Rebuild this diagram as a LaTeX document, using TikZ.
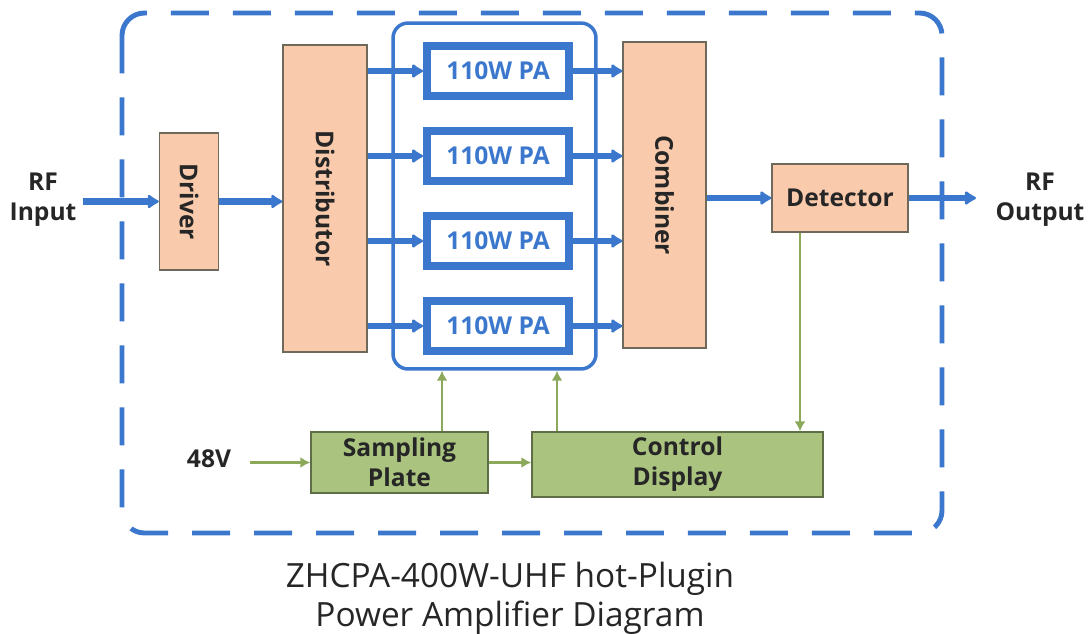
\documentclass[tikz,border=0pt]{standalone}
\usepackage{graphicx}
\usepackage{fontspec}
\setmainfont{Open Sans}
\usetikzlibrary{arrows.meta, positioning, calc}
\definecolor{pablue}{RGB}{59,120,205}
\definecolor{peach}{RGB}{249,203,172}
\definecolor{peachline}{RGB}{110,105,90}
\definecolor{ctrlgreen}{RGB}{170,196,128}
\definecolor{greenline}{RGB}{95,110,70}
\definecolor{feedgreen}{RGB}{140,168,90}

\begin{document}
\begin{tikzpicture}[
    x=0.02cm, y=-0.02cm,
    blk/.style={draw=peachline, line width=0.8pt, fill=peach, inner sep=0pt, font=\fontsize{14}{17}\selectfont\bfseries, text=black!85},
    ctl/.style={draw=greenline, line width=0.8pt, fill=ctrlgreen, inner sep=0pt, align=center, font=\fontsize{14}{17}\selectfont\bfseries, text=black!85},
    pabox/.style={draw=pablue, line width=4.5pt, minimum width=2.84cm, minimum height=1.0cm, inner sep=0pt, font=\fontsize{14}{17}\selectfont\bfseries, text=pablue},
    rfarrow/.style={draw=pablue, line width=3.6pt, -{Latex[length=0.26cm, width=0.34cm, round]}},
    feed/.style={draw=feedgreen, line width=1.4pt, -{Latex[length=0.2cm, width=0.22cm]}},
    lbl/.style={align=center, font=\fontsize{14}{17}\selectfont\bfseries, text=black!85},
]
\useasboundingbox (0,0) rectangle (1088,633);

% Module frame
\draw[pablue, line width=2.8pt, dash pattern=on 0.76cm off 0.48cm, rounded corners=0.45cm] (122,13) rectangle (942,533);

% RF chain
\node[lbl] (rfin) at (43,200) {RF\\Input};
\node[blk, minimum width=1.18cm, minimum height=2.74cm] (driver) at (189,201.5) {\rotatebox{-90}{Driver}};
\node[blk, minimum width=1.68cm, minimum height=6.14cm] (dist) at (325,198.5) {\rotatebox{-90}{Distributor}};
\node[draw=pablue, line width=2pt, rounded corners=0.3cm, minimum width=4.06cm, minimum height=6.92cm] (paframe) at (494.5,196) {};
\foreach \i/\y in {1/71,2/156,3/241,4/326}
    \node[pabox] (pa\i) at (498,\y) {110W PA};
\node[blk, minimum width=1.66cm, minimum height=6.12cm] (comb) at (664.5,195) {\rotatebox{-90}{Combiner}};
\node[blk, minimum width=2.72cm, minimum height=1.36cm] (det) at (840,198) {Detector};
\node[lbl] (rfout) at (1040,200) {RF\\Output};
\coordinate (rfend) at (976,198);

% Supply and control
\node[lbl] (v48) at (209,459) {48V};
\node[ctl, minimum width=3.54cm, minimum height=1.22cm] (samp) at (399.5,462.5) {Sampling\\Plate};
\node[ctl, minimum width=5.82cm, minimum height=1.3cm] (ctrl) at (677.5,464.5) {Control\\Display};
\coordinate (tapA) at (442,0);
\coordinate (tapB) at (557,0);
\coordinate (tapC) at (800,0);

% RF arrows
\draw[rfarrow] (rfin.east |- driver.west) -- (driver.west);
\draw[rfarrow] (driver.east) -- (dist.west |- driver.east);
\foreach \i in {1,...,4} {
    \draw[rfarrow] (dist.east |- pa\i.west) -- (pa\i.west);
    \draw[rfarrow] (pa\i.east) -- (comb.west |- pa\i.east);
}
\draw[rfarrow] (comb.east |- det.west) -- (det.west);
\draw[rfarrow] (det.east) -- (rfend);

% Control arrows
\draw[feed, shorten <=0.25cm] (v48.east |- samp.west) -- (samp.west);
\draw[feed] (samp.east) -- (ctrl.west |- samp.east);
\draw[feed] (samp.north -| tapA) -- (paframe.south -| tapA);
\draw[feed] (ctrl.north -| tapB) -- (paframe.south -| tapB);
\draw[feed] (det.south -| tapC) -- (ctrl.north -| tapC);

% Caption
\node[align=center, font=\fontsize{19}{22}\selectfont, text=black!85] (title) at (510,598) {ZHCPA-400W-UHF hot-Plugin\\Power Amplifier Diagram};
\end{tikzpicture}
\end{document}
